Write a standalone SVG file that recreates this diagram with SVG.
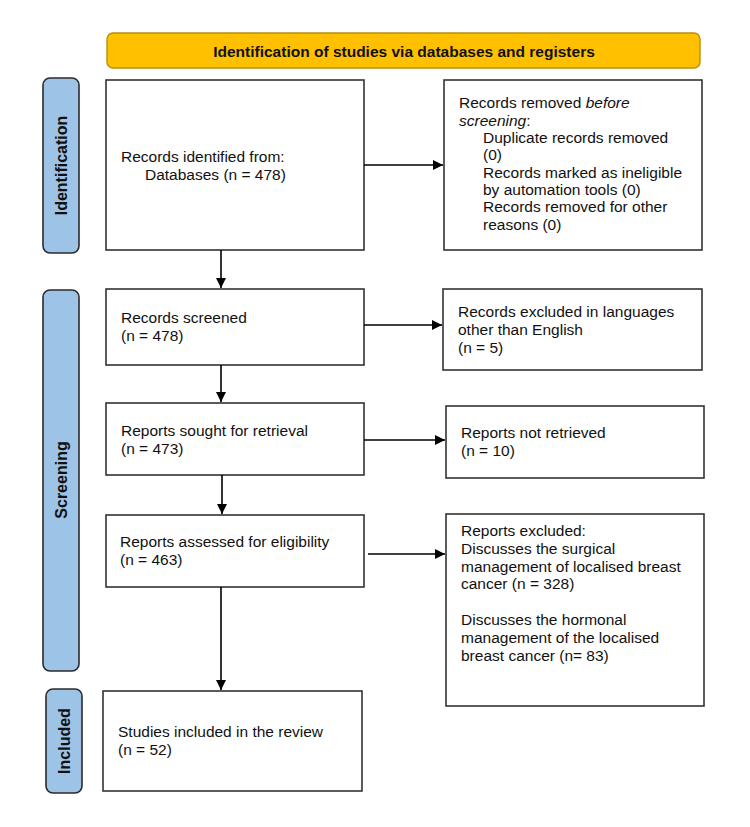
<svg xmlns="http://www.w3.org/2000/svg" width="750" height="827" viewBox="0 0 750 827">
<defs>
<style>
.box{fill:#fff;stroke:#333;stroke-width:1.6}
.phase{fill:#9DC3E6;stroke:#2b2b2b;stroke-width:1.6}
.banner{fill:#FFC000;stroke:#B8900A;stroke-width:1.4}
.t{font-family:"Liberation Sans",Arial,sans-serif;font-size:15.5px;fill:#111}
.b{font-family:"Liberation Sans",Arial,sans-serif;font-size:15.5px;font-weight:bold;fill:#111}
.c{stroke:#000;stroke-width:1.6;fill:none;marker-end:url(#ah)}
</style>
<marker id="ah" viewBox="0 0 10 10" refX="10" refY="5" markerWidth="10" markerHeight="10" markerUnits="userSpaceOnUse" orient="auto">
<path d="M0,0 L10,5 L0,10 Z" fill="#000"/>
</marker>
</defs>
<rect width="750" height="827" fill="#fff"/>

<g id="banner">
<rect class="banner" x="107" y="33" width="593" height="35" rx="6"/>
<text class="b" x="404" y="56.5" text-anchor="middle">Identification of studies via databases and registers</text>
</g>

<g id="phase-identification">
<rect class="phase" x="43" y="78" width="36" height="175" rx="7"/>
<text class="b" transform="translate(66.5,165.5) rotate(-90)" text-anchor="middle" style="font-size:16px">Identification</text>
</g>
<g id="phase-screening">
<rect class="phase" x="43" y="290" width="36" height="381" rx="7"/>
<text class="b" transform="translate(66.5,480) rotate(-90)" text-anchor="middle" style="font-size:16px">Screening</text>
</g>
<g id="phase-included">
<rect class="phase" x="46" y="689" width="36" height="104" rx="7"/>
<text class="b" transform="translate(69.5,741) rotate(-90)" text-anchor="middle" style="font-size:16px">Included</text>
</g>

<g id="records-identified">
<rect class="box" x="106" y="80" width="258" height="170"/>
<text class="t" x="121" y="162">Records identified from:</text>
<text class="t" x="145" y="179.5">Databases (n = 478)</text>
</g>

<g id="records-removed">
<rect class="box" x="444" y="80" width="258" height="170"/>
<text class="t" x="459" y="108">Records removed <tspan font-style="italic">before</tspan></text>
<text class="t" x="459" y="125.5"><tspan font-style="italic">screening</tspan>:</text>
<text class="t" x="483" y="143">Duplicate records removed</text>
<text class="t" x="483" y="160">(0)</text>
<text class="t" x="483" y="177.5">Records marked as ineligible</text>
<text class="t" x="483" y="195">by automation tools (0)</text>
<text class="t" x="483" y="212">Records removed for other</text>
<text class="t" x="483" y="229.5">reasons (0)</text>
</g>

<g id="records-screened">
<rect class="box" x="106" y="289" width="258" height="76"/>
<text class="t" x="121" y="323">Records screened</text>
<text class="t" x="121" y="341">(n = 478)</text>
</g>

<g id="records-excluded">
<rect class="box" x="443" y="289" width="259" height="81"/>
<text class="t" x="458" y="317">Records excluded in languages</text>
<text class="t" x="458" y="335">other than English</text>
<text class="t" x="458" y="353">(n = 5)</text>
</g>

<g id="reports-sought">
<rect class="box" x="106" y="403" width="258" height="72"/>
<text class="t" x="121" y="436">Reports sought for retrieval</text>
<text class="t" x="121" y="454">(n = 473)</text>
</g>

<g id="reports-not-retrieved">
<rect class="box" x="446" y="406" width="258" height="72"/>
<text class="t" x="461" y="438">Reports not retrieved</text>
<text class="t" x="461" y="456">(n = 10)</text>
</g>

<g id="reports-assessed">
<rect class="box" x="106" y="515" width="258" height="72"/>
<text class="t" x="120" y="547">Reports assessed for eligibility</text>
<text class="t" x="120" y="565">(n = 463)</text>
</g>

<g id="reports-excluded">
<rect class="box" x="446" y="514" width="258" height="192"/>
<text class="t" x="461" y="536">Reports excluded:</text>
<text class="t" x="461" y="554">Discusses the surgical</text>
<text class="t" x="461" y="571.5">management of localised breast</text>
<text class="t" x="461" y="589">cancer (n = 328)</text>
<text class="t" x="461" y="625">Discusses the hormonal</text>
<text class="t" x="461" y="643">management of the localised</text>
<text class="t" x="461" y="661">breast cancer (n= 83)</text>
</g>

<g id="studies-included">
<rect class="box" x="103" y="691" width="259" height="100"/>
<text class="t" x="118" y="737">Studies included in the review</text>
<text class="t" x="118" y="754.5">(n = 52)</text>
</g>

<g id="connectors">
<line class="c" x1="364" y1="165" x2="443" y2="165"/>
<line class="c" x1="221" y1="250" x2="221" y2="288"/>
<line class="c" x1="364" y1="325" x2="442" y2="325"/>
<line class="c" x1="221" y1="365" x2="221" y2="402"/>
<line class="c" x1="364" y1="440" x2="445" y2="440"/>
<line class="c" x1="222" y1="475" x2="222" y2="514"/>
<line class="c" x1="368" y1="554" x2="445" y2="554"/>
<line class="c" x1="221" y1="587" x2="221" y2="690"/>
</g>
</svg>
